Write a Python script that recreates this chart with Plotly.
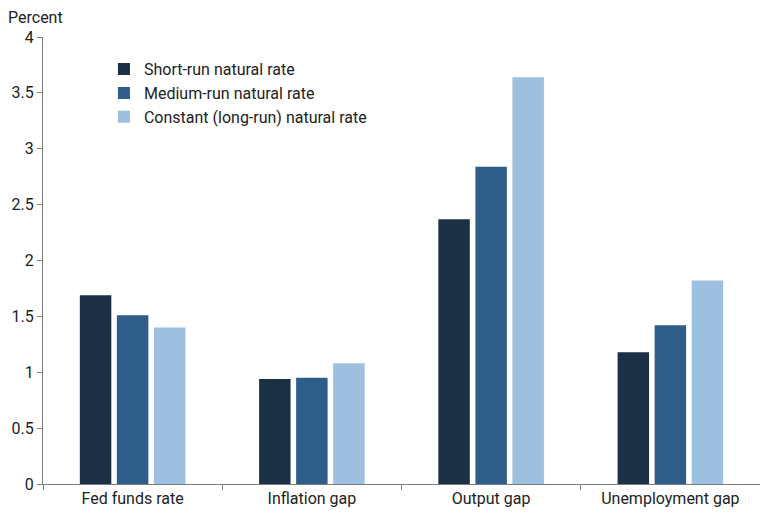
import plotly.graph_objects as go

categories = ["Fed funds rate", "Inflation gap", "Output gap", "Unemployment gap"]
series_names = ["Short-run natural rate", "Medium-run natural rate", "Constant (long-run) natural rate"]
short_run = [1.69, 0.94, 2.37, 1.18]
medium_run = [1.51, 0.95, 2.84, 1.42]
long_run = [1.40, 1.08, 3.64, 1.82]
colors = ["#1b2f45", "#2e5d8a", "#9dbfe0"]
y_ticks = [0, 0.5, 1, 1.5, 2, 2.5, 3, 3.5, 4]
y_tick_labels = ["0", "0.5", "1", "1.5", "2", "2.5", "3", "3.5", "4"]

fig = go.Figure()
for name, vals, c in zip(series_names, [short_run, medium_run, long_run], colors):
    fig.add_trace(go.Bar(x=categories, y=vals, name=name, marker=dict(color=c, line=dict(width=0))))

fig.update_layout(
    width=760, height=508,
    margin=dict(l=35, r=8, t=29, b=32, autoexpand=False),
    paper_bgcolor="white", plot_bgcolor="white",
    font=dict(family="Roboto", size=16, color="#222222"),
    barmode="group", bargap=0.38, bargroupgap=0.15,
    showlegend=True,
    legend=dict(x=0.085, y=0.966, xanchor="left", yanchor="top", bgcolor="rgba(0,0,0,0)",
                font=dict(size=16), tracegroupgap=0, itemwidth=30),
    xaxis=dict(showline=True, linecolor="#7f7f7f", linewidth=1, ticks="outside", tickson="boundaries",
               ticklen=5, tickcolor="#7f7f7f", showgrid=False, tickfont=dict(size=16), automargin=False),
    yaxis=dict(range=[0, 4], tickvals=y_ticks, ticktext=y_tick_labels, showline=True, linecolor="#7f7f7f",
               linewidth=1, ticks="outside", ticklen=5, tickcolor="#7f7f7f", showgrid=False,
               zeroline=False, tickfont=dict(size=16), automargin=False),
    annotations=[dict(text="Percent", x=0, y=1, xref="paper", yref="paper", xshift=-37, yshift=20,
                      xanchor="left", yanchor="middle", showarrow=False, font=dict(size=16))],
)

fig.write_html("out.html")
